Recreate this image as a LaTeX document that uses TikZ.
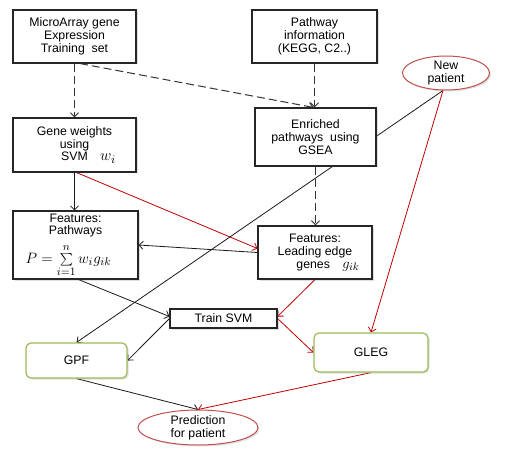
\documentclass[tikz,border=0pt]{standalone}
\usepackage{graphicx}
\usepackage{fontspec}
\setmainfont{Liberation Sans}
\usetikzlibrary{arrows.meta,shapes.geometric,shadows,calc}
\pgfdeclarelayer{bg}
\pgfsetlayers{bg,main}
\definecolor{darkred}{HTML}{C00000}
\definecolor{boxgreen}{HTML}{9BBB59}
\definecolor{ellred}{HTML}{C0504D}
\begin{document}
\begin{tikzpicture}[x=1pt,y=-1pt,
 font=\fontsize{12.3}{12.7}\selectfont,
 shd/.style={drop shadow={opacity=0.25,shadow xshift=1.5pt,shadow yshift=-1.5pt}},
 box/.style={draw=black!85,line width=1.1pt,fill=white,align=center,inner sep=0pt,shd},
 gbox/.style={draw=boxgreen,line width=1.2pt,fill=white,rounded corners=5pt,align=center,inner sep=0pt,shd},
 ell/.style={ellipse,draw=ellred,line width=1pt,fill=white,align=center,inner sep=0pt,shd},
 arr/.style={-{Straight Barb[length=4pt,width=8pt]},line width=0.8pt},
 blkarr/.style={arr,draw=black!90},
 redarr/.style={arr,draw=darkred},
 dsharr/.style={arr,dash pattern=on 8pt off 4pt,line width=1pt,draw=black!80},
]
\useasboundingbox (0,0) rectangle (505,462);

\node[box,minimum width=123pt,minimum height=53pt] (micro) at (74.5,36.5) {MicroArray gene\\Expression\\Training\ \ set};
\node[box,minimum width=125pt,minimum height=53pt] (path) at (314.5,36.5) {Pathway\\information\\(KEGG, C2..)};
\node[ell,minimum width=87pt,minimum height=34pt] (newp) at (446,73) {New\\patient};
\node[box,minimum width=123pt,minimum height=54pt] (gw) at (74.5,145) {Gene weights\\using\\\hspace*{28pt}SVM\quad \scalebox{1.3}{$w_i$}};
\node[box,minimum width=121pt,minimum height=58pt] (enr) at (315.5,137) {Enriched\\pathways\ \ using\\GSEA};
\node[box,minimum width=125pt,minimum height=68pt] (fp) at (75.5,245) {Features:\\Pathways\\[6pt]\scalebox{1.25}{$P=\sum\limits_{i=1}^{n} w_i g_{ik}$}\hspace*{14pt}};
\node[box,minimum width=114pt,minimum height=53pt] (lead) at (315,252.5) {Features:\\Leading edge\\\hspace*{26pt}genes\quad \scalebox{1.2}{$g_{ik}$}};
\node[box,minimum width=107pt,minimum height=19pt] (train) at (223.5,318.5) {Train SVM};
\node[gbox,minimum width=101pt,minimum height=35pt] (gpf) at (76.5,360.5) {GPF};
\node[gbox,minimum width=114pt,minimum height=39pt] (gleg) at (371,352.5) {GLEG};
\node[ell,minimum width=120pt,minimum height=35pt] (pred) at (198,427.5) {Prediction\\for patient};

\begin{pgfonlayer}{bg}
\draw[dsharr] (micro.south) -- (gw.north);
\draw[dsharr] ([xshift=5.5pt]micro.south) -- ([xshift=-2pt]enr.north);
\draw[dsharr] (path.south) -- (path.south |- enr.north);
\draw[dsharr] (enr.south) -- (enr.south |- lead.north);
\draw[blkarr] (gw.south) -- (gw.south |- fp.north);
\draw[redarr] ([xshift=2pt]gw.south) -- ([yshift=4pt]lead.west);
\draw[blkarr] (lead.west) -- (fp.east);
\draw[blkarr] ([xshift=3pt]fp.south) -- ([yshift=2pt]train.west);
\draw[blkarr] ([xshift=-3pt]newp.south) -- (gpf.north);
\draw[redarr] ([xshift=-3pt]newp.south) -- (gleg.north);
\draw[redarr] (lead.south) -- ([yshift=2pt]train.east);
\draw[redarr] (train.east) -- (gleg.west);
\draw[blkarr] (train.west) -- (gpf.east);
\draw[blkarr] (gpf.south) -- (pred.north);
\draw[redarr] (gleg.south) -- (pred.north);
\end{pgfonlayer}
\end{tikzpicture}
\end{document}
